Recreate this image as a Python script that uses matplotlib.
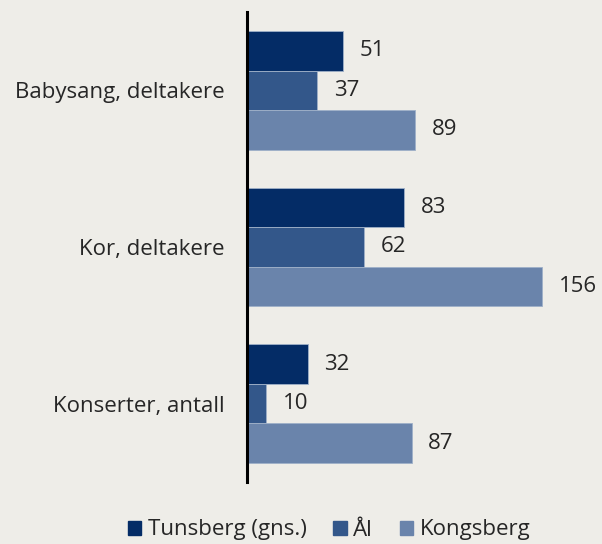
import matplotlib
matplotlib.use("Agg")
import matplotlib.pyplot as plt
from matplotlib.patches import Patch
import numpy as np

categories = ["Babysang, deltakere", "Kor, deltakere", "Konserter, antall"]
series_names = ["Tunsberg (gns.)", "Ål", "Kongsberg"]
tunsberg = [51, 83, 32]
aal = [37, 62, 10]
kongsberg = [89, 156, 87]
colors = ["#042C66", "#33578A", "#6A84AB"]

plt.rcParams['font.family'] = ['Open Sans', 'DejaVu Sans']
bg = "#EEEDE8"
fig = plt.figure(figsize=(6.02, 5.44), dpi=100, facecolor=bg)
ax = fig.add_axes([247/602, 1-482/544, (602-247)/602, 470/544])
ax.set_facecolor(bg)

y = np.arange(len(categories))
h = 0.252
for i, (vals, c) in enumerate(zip([tunsberg, aal, kongsberg], colors)):
    pos = y + (i - 1) * h
    ax.barh(pos, vals, height=h, color=c, edgecolor="#9FB0C8", linewidth=0.6)
    for p, v in zip(pos, vals):
        ax.annotate(str(v), (v, p), xytext=(12, 0), textcoords="offset points",
                    va="center", ha="left", fontsize=16, color="#262626")

ax.set_ylim(2.5, -0.5)
ax.set_xlim(0, 187.7)
ax.set_yticks(y)
ax.set_yticklabels(categories, fontsize=16, color="#262626")
ax.tick_params(axis="y", length=0, pad=16)
ax.set_xticks([])
for s in ["top", "right", "bottom"]:
    ax.spines[s].set_visible(False)
ax.spines["left"].set_linewidth(2.2)
ax.spines["left"].set_color("black")

handles = [Patch(facecolor=c, edgecolor=c) for c in colors]
fig.legend(handles, series_names, loc="center", bbox_to_anchor=(329/602, 1-530/544),
           ncol=3, frameon=False, fontsize=16, handlelength=0.6, handleheight=0.6,
           handletextpad=0.3, columnspacing=1.2, labelcolor="#262626",
           borderpad=0.1)

fig.savefig("out.png", dpi=100, facecolor=bg)
